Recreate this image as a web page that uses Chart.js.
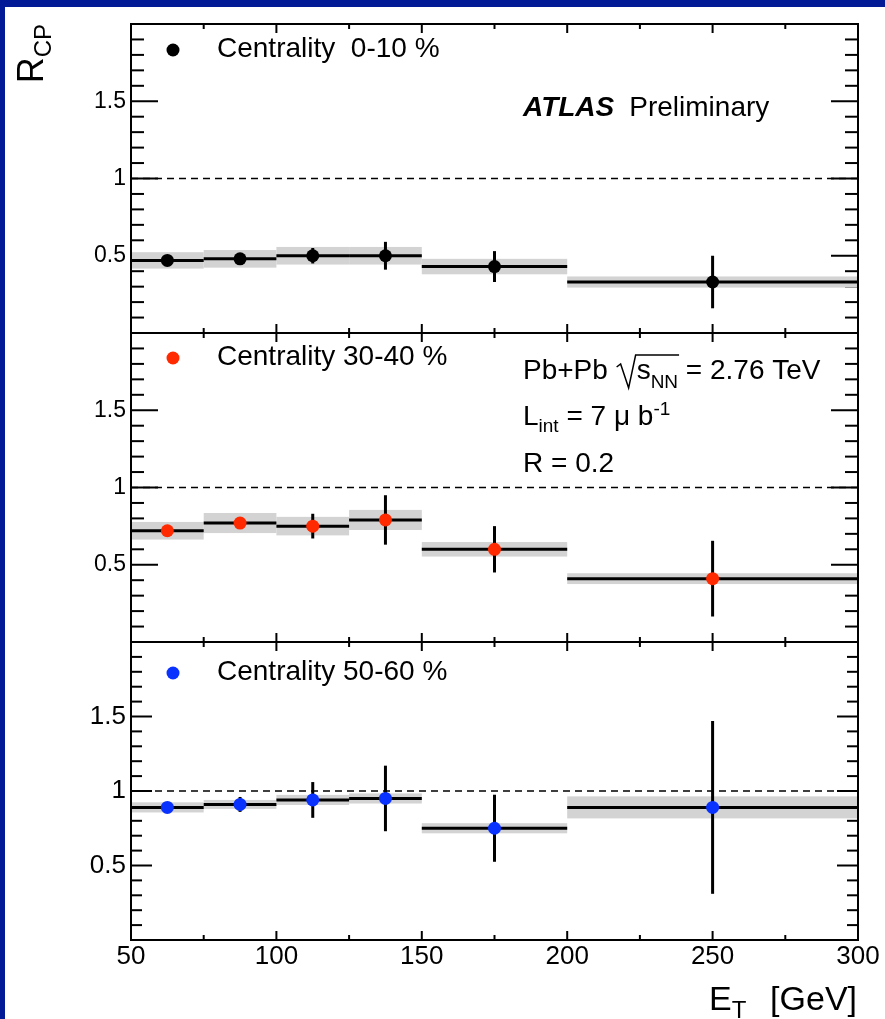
<!DOCTYPE html>
<html>
<head>
<meta charset="utf-8">
<script src="https://cdn.jsdelivr.net/npm/chart.js@4.4.1/dist/chart.umd.min.js"></script>
<style>
  html, body { margin: 0; padding: 0; background: #fff; }
  #page { position: relative; width: 885px; height: 1019px; background: #fff; overflow: hidden; }
  #page canvas { position: absolute; left: 0; top: 0; }
  .edge-top { position: absolute; left: 0; top: 0; width: 885px; height: 7px; background: #021a96; }
  .edge-left { position: absolute; left: 0; top: 0; width: 5px; height: 1019px; background: #021a96; }
</style>
</head>
<body>
<div id="page">
  <canvas id="rcp1" width="885" height="1019"></canvas>
  <canvas id="rcp2" width="885" height="1019"></canvas>
  <canvas id="rcp3" width="885" height="1019"></canvas>
  <div class="edge-top"></div>
  <div class="edge-left"></div>
</div>
<script>
// jet ET bins (GeV)
const binEdges = [50, 75, 100, 125, 150, 200, 300];
const binCentres = [62.5, 87.5, 112.5, 137.5, 175, 250];

// R_CP, statistical error, systematic error per centrality class
const rcp0to10 = [0.47, 0.48, 0.50, 0.50, 0.43, 0.33];
const stat0to10 = [0.03, 0.03, 0.05, 0.09, 0.10, 0.17];
const sys0to10 = [0.053, 0.057, 0.057, 0.057, 0.05, 0.036];

const rcp30to40 = [0.72, 0.77, 0.75, 0.79, 0.60, 0.41];
const stat30to40 = [0.03, 0.03, 0.08, 0.16, 0.15, 0.245];
const sys30to40 = [0.057, 0.065, 0.06, 0.065, 0.047, 0.035];

const rcp50to60 = [0.89, 0.91, 0.94, 0.95, 0.75, 0.89];
const stat50to60 = [0.03, 0.05, 0.12, 0.22, 0.225, 0.58];
const sys50to60 = [0.034, 0.03, 0.034, 0.034, 0.034, 0.074];

const yTickLabels = [0.5, 1, 1.5];
const xTickLabels = [50, 100, 150, 200, 250, 300];

const FONT = '"Liberation Sans", Arial, Helvetica, sans-serif';
const W = 885, H = 1019;

function line(ctx, x0, y0, x1, y1) {
  ctx.beginPath();
  ctx.moveTo(x0, y0);
  ctx.lineTo(x1, y1);
  ctx.stroke();
}

// draws a row of text pieces [text, size, dy, style], returns end x
function textRun(ctx, x, y, parts) {
  for (const [t, size, dy, style] of parts) {
    ctx.font = (style || '') + ' ' + size + 'px ' + FONT;
    ctx.fillText(t, x, y + dy);
    x += ctx.measureText(t).width;
  }
  return x;
}

function rootStyle(p) {
  return {
    id: 'rootStyle',
    beforeDatasetsDraw(chart) {
      const { ctx, chartArea: a, scales: { x, y } } = chart;
      ctx.save();
      ctx.strokeStyle = '#000';
      ctx.lineWidth = 2;
      // y ticks on both sides, minor every 0.1
      for (let i = 0; i <= 20; i++) {
        const py = y.getPixelForValue(i / 10);
        const len = i % 5 === 0 ? p.yMajor : p.yMinor;
        line(ctx, a.left, py, a.left + len, py);
        line(ctx, a.right - len, py, a.right, py);
      }
      // x ticks top and bottom, minor every 25
      for (let v = 50; v <= 300; v += 25) {
        const px = x.getPixelForValue(v);
        const len = v % 50 === 0 ? 9 : 5;
        line(ctx, px, a.top, px, a.top + len);
        line(ctx, px, a.bottom - len, px, a.bottom);
      }
      // unity reference
      ctx.lineWidth = 1.5;
      ctx.setLineDash([7, 5]);
      line(ctx, a.left, y.getPixelForValue(1), a.right, y.getPixelForValue(1));
      ctx.setLineDash([]);

      // systematic bands
      ctx.fillStyle = '#d3d3d3';
      p.values.forEach((v, i) => {
        const x0 = x.getPixelForValue(binEdges[i]);
        const x1 = x.getPixelForValue(binEdges[i + 1]);
        const yHi = y.getPixelForValue(v + p.sys[i]);
        const yLo = y.getPixelForValue(v - p.sys[i]);
        ctx.fillRect(x0, yHi, x1 - x0, yLo - yHi);
      });
      // bin widths and statistical errors
      ctx.lineWidth = 3;
      p.values.forEach((v, i) => {
        const py = y.getPixelForValue(v);
        line(ctx, x.getPixelForValue(binEdges[i]), py, x.getPixelForValue(binEdges[i + 1]), py);
        const px = x.getPixelForValue(binCentres[i]);
        line(ctx, px, y.getPixelForValue(v + p.stat[i]), px, y.getPixelForValue(v - p.stat[i]));
      });
      ctx.restore();
    },
    afterDraw(chart) {
      const { ctx, chartArea: a } = chart;
      ctx.save();
      ctx.strokeStyle = '#000';
      ctx.lineWidth = 2;
      ctx.strokeRect(a.left, a.top, a.right - a.left, a.bottom - a.top);

      // legend entry
      ctx.fillStyle = p.color;
      ctx.beginPath();
      ctx.arc(173, p.legendY, 6.5, 0, Math.PI * 2);
      ctx.fill();
      ctx.fillStyle = '#000';
      ctx.textBaseline = 'alphabetic';
      ctx.textAlign = 'left';
      ctx.font = '28px ' + FONT;
      ctx.fillText(p.label, 217, p.legendY + 7);

      if (p.extra) p.extra(ctx, a);
      ctx.restore();
    }
  };
}

function atlasLabel(ctx) {
  ctx.font = 'italic bold 28px ' + FONT;
  ctx.fillText('ATLAS', 523, 116);
  const w = ctx.measureText('ATLAS').width;
  ctx.font = '28px ' + FONT;
  ctx.fillText('Preliminary', 523 + w + 15, 116);
}

function yTitle(ctx) {
  ctx.save();
  ctx.translate(43, 24);
  ctx.rotate(-Math.PI / 2);
  ctx.font = '36px ' + FONT;
  const wR = ctx.measureText('R').width;
  ctx.font = '24px ' + FONT;
  const wCP = ctx.measureText('CP').width;
  textRun(ctx, -(wR + wCP), 0, [['R', 36, 0], ['CP', 24, 8]]);
  ctx.restore();
}

function runInfo(ctx) {
  ctx.lineWidth = 1.5;
  ctx.strokeStyle = '#000';
  let x = textRun(ctx, 523, 379, [['Pb+Pb ', 28, 0]]);
  ctx.font = '28px ' + FONT;
  const sW = ctx.measureText('s').width;
  ctx.font = '19px ' + FONT;
  const nnW = ctx.measureText('NN').width;
  // radical sign over s_NN
  ctx.beginPath();
  ctx.moveTo(x + 1, 367);
  ctx.lineTo(x + 5, 364);
  ctx.lineTo(x + 13, 388);
  ctx.lineTo(x + 20, 355);
  ctx.lineTo(x + 22 + sW + nnW, 355);
  ctx.stroke();
  x = textRun(ctx, x + 21, 379, [['s', 28, 0], ['NN', 19, 9]]);
  textRun(ctx, x, 379, [[' = 2.76 TeV', 28, 0]]);

  textRun(ctx, 523, 425, [['L', 28, 0], ['int', 19, 7], [' = 7 \u03bc b', 28, 0], ['-1', 19, -10]]);
  textRun(ctx, 523, 472, [['R = 0.2', 28, 0]]);
}

function xTitle(ctx) {
  ctx.textAlign = 'right';
  ctx.font = '34px ' + FONT;
  ctx.fillText('[GeV]', 857, 1010);
  ctx.textAlign = 'left';
  textRun(ctx, 709, 1010, [['E', 34, 0], ['T', 24, 8]]);
}

const panels = [
  { id: 'rcp1', values: rcp0to10, stat: stat0to10, sys: sys0to10, color: '#000000',
    label: 'Centrality  0-10 %', top: 24, bottom: 333, showX: false, yFont: 23,
    yMajor: 27, yMinor: 13, legendY: 50,
    extra: (ctx) => { atlasLabel(ctx); yTitle(ctx); } },
  { id: 'rcp2', values: rcp30to40, stat: stat30to40, sys: sys30to40, color: '#ff2a00',
    label: 'Centrality 30-40 %', top: 333, bottom: 642, showX: false, yFont: 23,
    yMajor: 27, yMinor: 13, legendY: 358, extra: runInfo },
  { id: 'rcp3', values: rcp50to60, stat: stat50to60, sys: sys50to60, color: '#0a32ff',
    label: 'Centrality 50-60 %', top: 642, bottom: 940, showX: true, yFont: 26,
    yMajor: 21, yMinor: 11, legendY: 673, extra: xTitle }
];

const xAxisHeight = 30;

panels.forEach(p => {
  new Chart(document.getElementById(p.id), {
    type: 'scatter',
    data: {
      datasets: [{
        data: binCentres.map((c, i) => ({ x: c, y: p.values[i] })),
        pointRadius: 6.5,
        pointHoverRadius: 6.5,
        pointBackgroundColor: p.color,
        pointBorderColor: p.color,
        pointBorderWidth: 0,
        showLine: false
      }]
    },
    options: {
      responsive: false,
      animation: false,
      events: [],
      layout: {
        padding: { left: 0, right: 27, top: p.top, bottom: H - p.bottom - (p.showX ? xAxisHeight : 0) }
      },
      plugins: { legend: { display: false }, tooltip: { enabled: false } },
      scales: {
        x: {
          type: 'linear', min: 50, max: 300, display: p.showX,
          grid: { display: false, drawTicks: false },
          border: { display: false },
          afterBuildTicks: s => { s.ticks = xTickLabels.map(v => ({ value: v })); },
          afterFit: s => { s.height = p.showX ? xAxisHeight : 0; },
          ticks: { font: { family: FONT, size: 26 }, color: '#000', padding: 1,
                   maxRotation: 0, autoSkip: false, callback: v => String(v) }
        },
        y: {
          type: 'linear', min: 0, max: 2,
          grid: { display: false, drawTicks: false },
          border: { display: false },
          afterBuildTicks: s => { s.ticks = yTickLabels.map(v => ({ value: v })); },
          afterFit: s => { s.width = 131; },
          ticks: { font: { family: FONT, size: p.yFont }, color: '#000', padding: 5,
                   callback: v => String(v) }
        }
      }
    },
    plugins: [rootStyle(p)]
  });
});
</script>
</body>
</html>
